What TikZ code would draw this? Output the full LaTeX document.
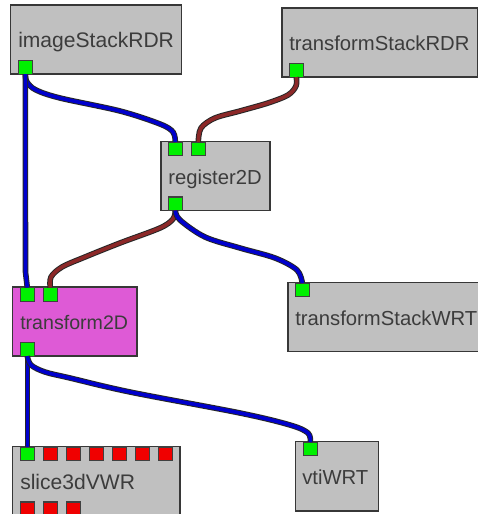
\documentclass[tikz,border=0pt]{standalone}
\usepackage{fontspec}
\setmainfont{Liberation Sans}
\definecolor{boxgrey}{RGB}{192,192,192}
\definecolor{edgegrey}{RGB}{55,55,55}
\definecolor{magentabox}{RGB}{222,90,214}
\definecolor{portgreen}{RGB}{0,240,0}
\definecolor{portred}{RGB}{240,0,0}
\definecolor{wireblue}{RGB}{0,0,205}
\definecolor{wirebrown}{RGB}{140,40,40}
\definecolor{txt}{RGB}{60,60,60}
\begin{document}
\begin{tikzpicture}[x=0.75pt,y=-0.75pt,
  modbox/.style={draw=edgegrey,line width=1pt,fill=boxgrey,anchor=north west,inner sep=0pt,outer sep=0pt},
  modtext/.style={anchor=base west,inner sep=0pt,text=txt,font=\fontsize{15.2}{18}\selectfont},
  portg/.style={draw=black!75,line width=0.9pt,fill=portgreen,anchor=north west,inner sep=0pt,outer sep=0pt,minimum width=10.2pt,minimum height=10.2pt},
  portr/.style={portg,fill=portred},
  wireb/.style={draw=black!85,line width=0.75pt,double=wireblue,double distance=2.7pt,line join=round},
  wirer/.style={wireb,double=wirebrown}]
\useasboundingbox (0,0) rectangle (478,514);
\clip (0,0) rectangle (478,514);
\fill[white] (0,0) rectangle (478,514);
% modules
\node[modbox,minimum width=128pt,minimum height=51.8pt] (imgbox) at (10.5,5) {};
\node[modtext,font=\fontsize{15.8}{18}\selectfont] (imgtxt) at (18,47.5) {imageStackRDR};
\node[modbox,minimum width=147pt,minimum height=51.8pt] (tsrbox) at (282,8) {};
\node[modtext] (tsrtxt) at (289,50.7) {transformStackRDR};
\node[modbox,minimum width=81.8pt,minimum height=51.8pt] (regbox) at (161,141.5) {};
\node[modtext] (regtxt) at (168,184) {register2D};
\node[modbox,minimum width=93.4pt,minimum height=51.8pt,fill=magentabox] (trfbox) at (12.5,287) {};
\node[modtext,font=\fontsize{14.7}{18}\selectfont] (trftxt) at (20,329) {transform2D};
\node[modbox,minimum width=147pt,minimum height=51.8pt] (tswbox) at (288,282.5) {};
\node[modtext] (tswtxt) at (295,325) {transformStackWRT};
\node[modbox,minimum width=62.4pt,minimum height=52pt] (vtibox) at (295.5,441.5) {};
\node[modtext] (vtitxt) at (302,484) {vtiWRT};
\node[modbox,minimum width=125.5pt,minimum height=60pt] (slcbox) at (12.5,446.5) {};
\node[modtext,font=\fontsize{15.8}{18}\selectfont] (slctxt) at (20,489) {slice3dVWR};
% ports
\node[portg] (imgout) at (18.5,60.5) {};
\node[portg] (tsrout) at (289.5,63.5) {};
\node[portg] (regina) at (168.5,142) {};
\node[portg] (reginb) at (191.5,142) {};
\node[portg] (regout) at (168.5,197) {};
\node[portg] (trfina) at (20.5,287.5) {};
\node[portg] (trfinb) at (43.5,287.5) {};
\node[portg] (trfout) at (20.5,342.5) {};
\node[portg] (tswin) at (295.5,283) {};
\node[portg] (vtiin) at (303.5,442) {};
\node[portg] (slcin) at (20.5,447) {};
\foreach \n/\x in {a/43.5,b/66.5,c/89.5,d/112.5,e/135.5,f/158.5}
  \node[portr] (slcr\n) at (\x,447) {};
\foreach \n/\x in {g/20.5,h/43.5,i/66.5}
  \node[portr] (slcr\n) at (\x,502) {};
% connectors
\draw[wireb] plot[smooth,tension=0.55] coordinates {(imgout.south) (27,82) (36,90) (60,98) (120,111) (160,124) (173,132) (regina.north)};
\draw[wireb] (imgout.south) -- (25.5,272) -- (trfina.north);
\draw[wirer] plot[smooth,tension=0.55] coordinates {(tsrout.south) (296,86) (288,95) (268,103) (240,111) (215,118) (201,128) (reginb.north)};
\draw[wirer] plot[smooth,tension=0.55] coordinates {(regout.south) (173,219) (160,228) (120,243) (85,257) (62,267) (51,277) (trfinb.north)};
\draw[wireb] plot[smooth,tension=0.55] coordinates {(regout.south) (180,220) (205,237) (240,248) (275,258) (297,270) (tswin.north)};
\draw[wireb] (trfout.south) -- (slcin.north);
\draw[wireb] plot[smooth,tension=0.55] coordinates {(trfout.south) (31,365) (45,372) (70,378) (130,392) (240,413) (290,425) (308,433) (vtiin.north)};
\end{tikzpicture}
\end{document}
